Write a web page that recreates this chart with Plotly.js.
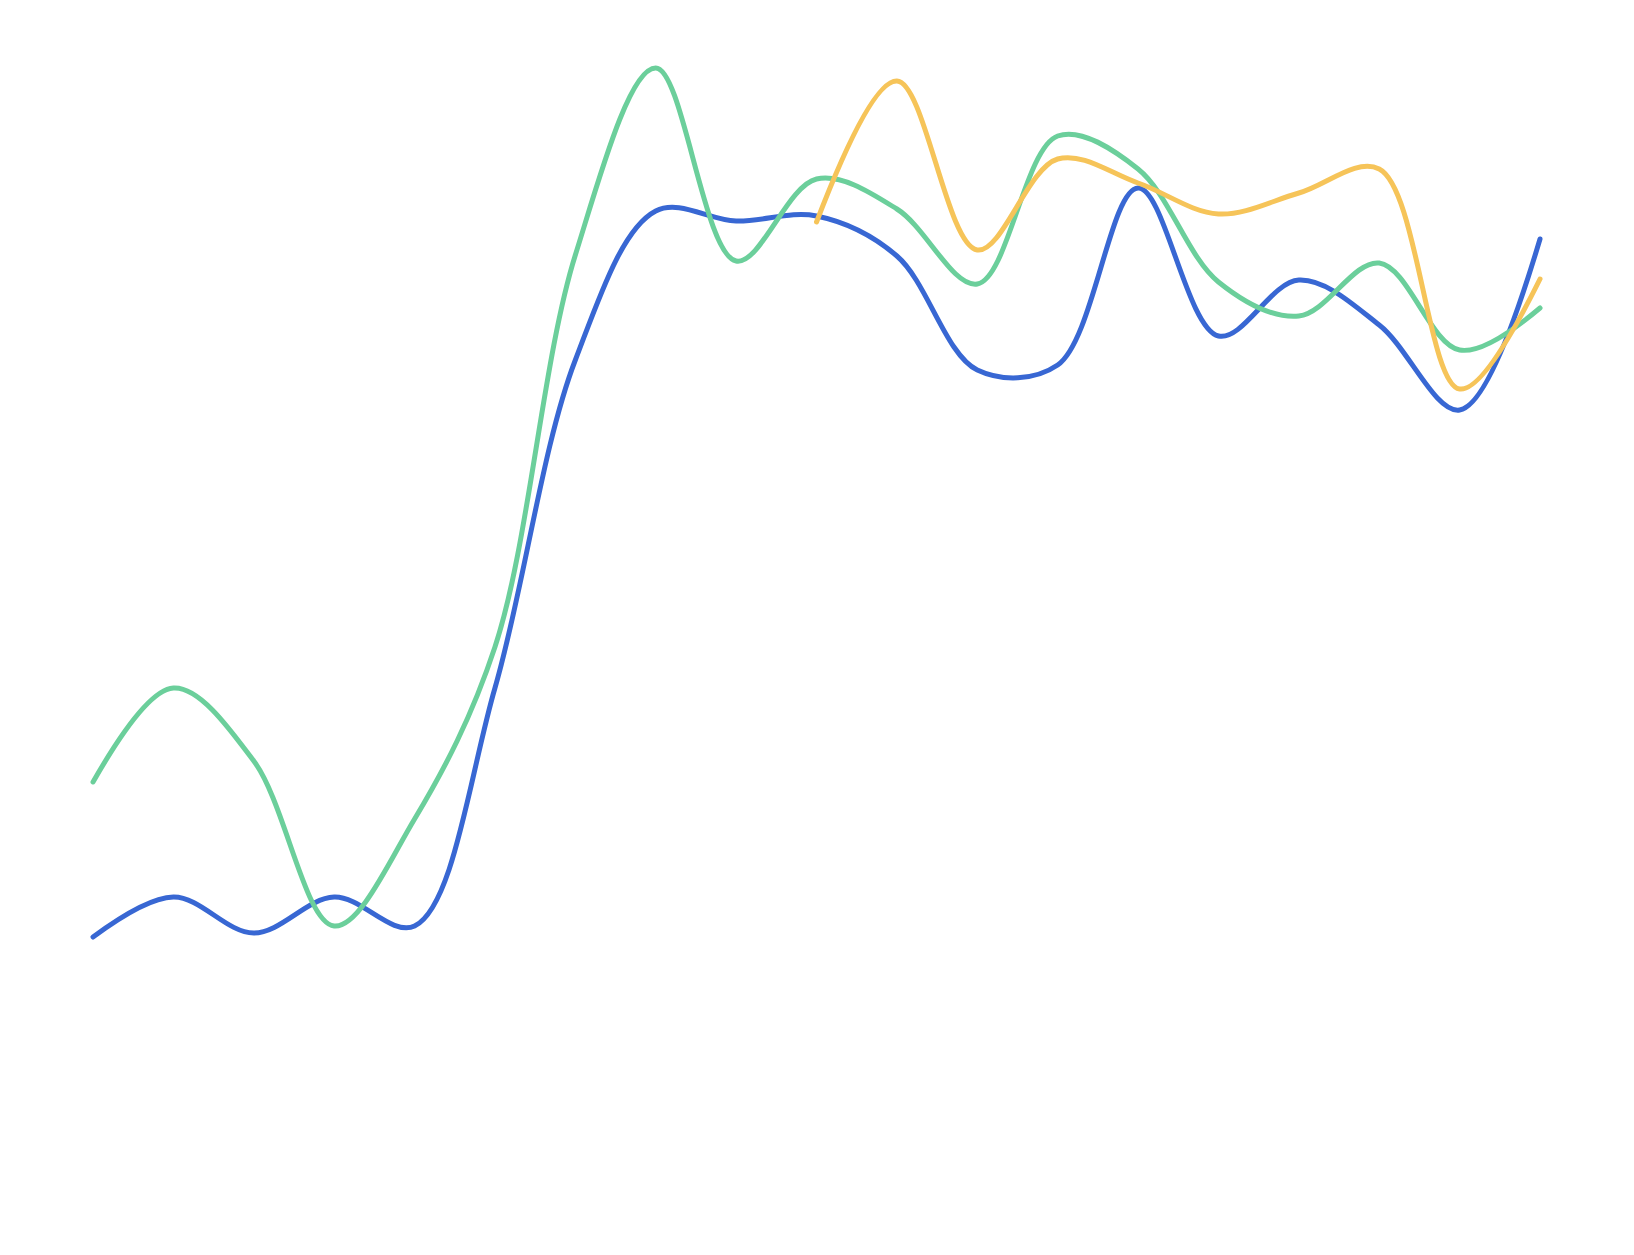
<!DOCTYPE html>
<html>
<head>
<meta charset="utf-8">
<script src="https://cdn.plot.ly/plotly-3.0.1.min.js"></script>
<style>
  html, body { margin: 0; padding: 0; background: #fff; }
  #chart { width: 1634px; height: 1255px; }
  /* round line ends like the original */
  #chart path.js-line { stroke-linecap: round !important; stroke-linejoin: round !important; }
</style>
</head>
<body>
<div id="chart"></div>
<script>
// data
var steps = [0, 1, 2, 3, 4, 5, 6, 7, 8, 9, 10, 11, 12, 13, 14, 15, 16, 17, 18];
var blue = [23.8, 27.8, 24.2, 27.8, 24.9, 48.7, 81.5, 96.4, 95.4, 95.9, 91.9, 80.5, 81.0, 98.7, 83.9, 89.5, 85.0, 76.5, 93.6];
var green = [39.3, 48.7, 41.4, 24.9, 35.6, 52.8, 92.0, 110.7, 91.4, 99.6, 96.6, 89.1, 103.9, 100.6, 89.3, 85.9, 91.2, 82.5, 86.7];
var yellowSteps = [9, 10, 11, 12, 13, 14, 15, 16, 17, 18];
var yellow = [95.3, 109.4, 92.5, 101.6, 99.2, 96.1, 98.2, 100.6, 78.6, 89.6];

function line(x, y, color) {
  return {
    x: x,
    y: y,
    type: 'scatter',
    mode: 'lines',
    line: { shape: 'spline', smoothing: 1, width: 5, color: color },
    hoverinfo: 'none'
  };
}

var traces = [
  line(steps, blue, '#3867d3'),
  line(steps, green, '#6bcf9b'),
  line(yellowSteps, yellow, '#f6c459')
];

var hidden = {
  showgrid: false,
  zeroline: false,
  showline: false,
  showticklabels: false,
  ticks: ''
};

var layout = {
  width: 1634,
  height: 1255,
  margin: { l: 80, r: 80, t: 55, b: 80 },
  paper_bgcolor: '#ffffff',
  plot_bgcolor: '#ffffff',
  showlegend: false,
  xaxis: Object.assign({ range: [-0.162, 18.174] }, hidden),
  yaxis: Object.assign({ range: [0, 112] }, hidden)
};

Plotly.newPlot('chart', traces, layout, { displayModeBar: false, staticPlot: true });
</script>
</body>
</html>
